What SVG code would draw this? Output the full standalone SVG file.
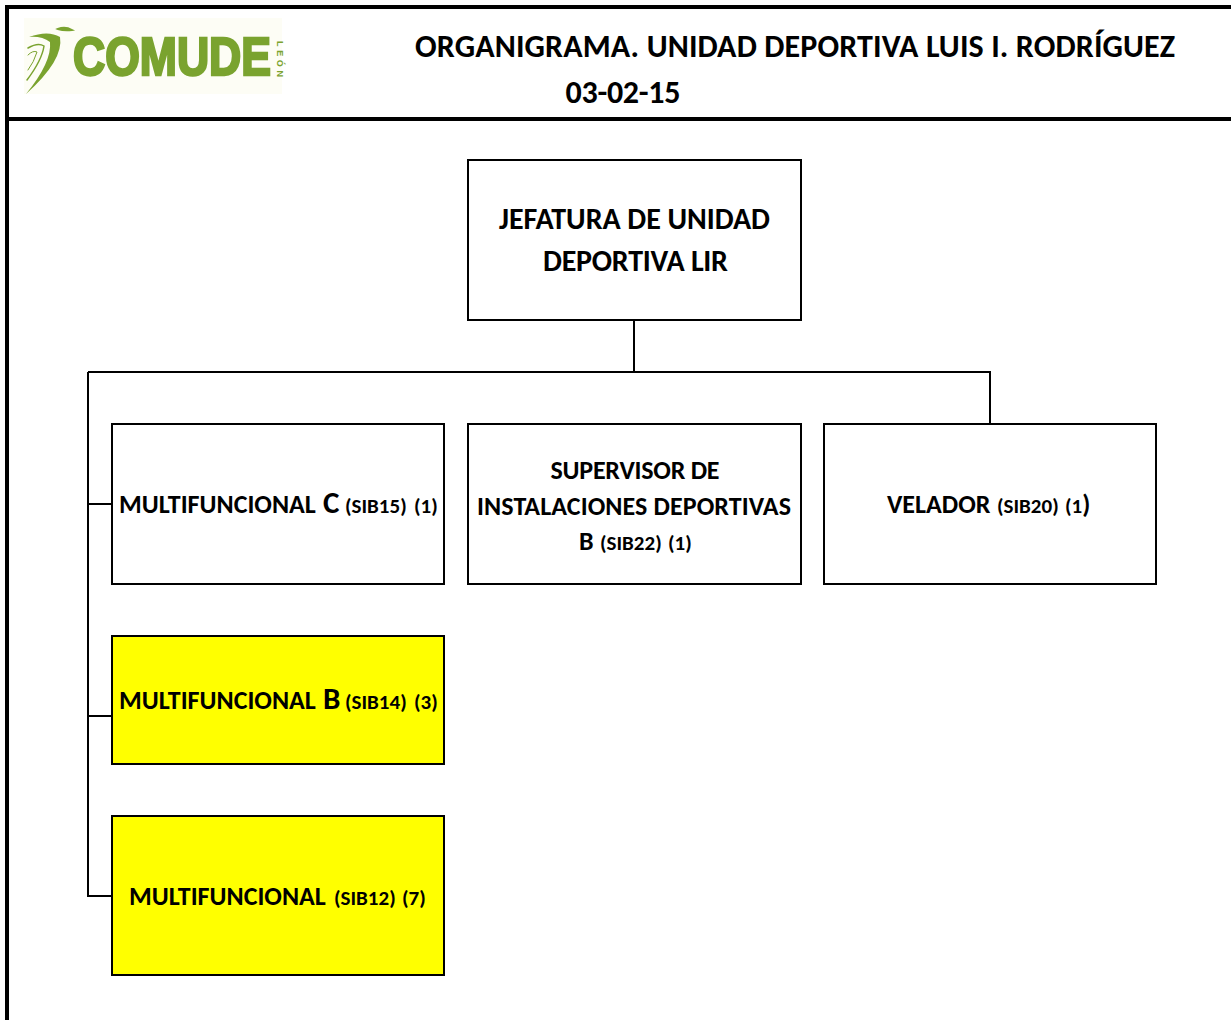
<svg xmlns="http://www.w3.org/2000/svg" width="1231" height="1020" viewBox="0 0 1231 1020">
<style>
text{font-family:Carlito,Lato,"Open Sans","Liberation Sans",sans-serif;font-weight:700;fill:#000;text-anchor:middle}
.b{fill:#fff;stroke:#000;stroke-width:2}
.y{fill:#ff0;stroke:#000;stroke-width:2}
.c{fill:none;stroke:#000;stroke-width:2}
.l{font-size:26px;text-anchor:start}
.m{font-size:26px}
.k{font-size:31px}
.s{font-size:21px}
.t{font-size:32px}
.j{font-size:30px}
.g{fill:none;stroke:#7aa32f;stroke-linecap:round}
</style>
<rect width="1231" height="1020" fill="#fff"/>
<path d="M7 1020V7H1231M7 119H1231" fill="none" stroke="#000" stroke-width="4"/>
<g id="logo">
<rect x="24" y="18" width="258" height="76" fill="#fdfdf5"/>
<path d="M58 29Q65 26 72 30Q64 31 58 29Z" fill="#7aa32f" stroke="#7aa32f" stroke-width="2"/>
<path d="M29 37Q48 30 60 37Q64 60 26 94Q52 62 50 42Q42 36 29 37Z" fill="#7aa32f"/>
<path class="g" stroke-width="1.5" d="M28 48Q38 42 44 46Q42 60 27 80"/>
<path class="g" stroke-width="1" d="M28 55Q33 50 37 52Q34 62 28 70"/>
<text x="172" y="75" textLength="198" lengthAdjust="spacingAndGlyphs" style="font-size:53px;fill:#7aa32f;stroke:#7aa32f;stroke-width:2.500px;font-family:'Liberation Sans',sans-serif">COMUDE</text>
<text transform="translate(277,59) rotate(90)" style="font-size:9px;fill:#7aa32f;font-family:'Liberation Sans',sans-serif" textLength="36" lengthAdjust="spacing">LEÓN</text>
</g>
<text x="795" y="57" class="t" textLength="760">ORGANIGRAMA. UNIDAD DEPORTIVA LUIS I. RODRÍGUEZ</text>
<text x="623" y="103" class="t" textLength="115">03-02-15</text>
<g id="connectors">
<path class="c" d="M634 320V372M88 372H990V423M88 372V896H112M88 504H112M88 716H112"/>
</g>
<g id="jefatura"><rect class="b" x="468" y="160" width="333" height="160"/>
<text x="634.500" y="229" class="j" textLength="271">JEFATURA DE UNIDAD</text>
<text x="635.500" y="271" class="j" textLength="185">DEPORTIVA LIR</text></g>
<g id="mfc"><rect class="b" x="112" y="424" width="332" height="160"/>
<text x="119" y="513" class="l"><tspan>MULTIFUNCIONAL</tspan><tspan x="323" class="k">C</tspan><tspan x="345" class="s">(SIB15)</tspan><tspan x="414" class="s">(1)</tspan></text></g>
<g id="supervisor"><rect class="b" x="468" y="424" width="333" height="160"/>
<text x="635" y="479" class="m" textLength="169">SUPERVISOR DE</text>
<text x="634" y="515" class="m" textLength="314">INSTALACIONES DEPORTIVAS</text>
<text x="579" y="550" class="l">B<tspan x="600" class="s">(SIB22)</tspan><tspan x="668" class="s">(1)</tspan></text></g>
<g id="velador"><rect class="b" x="824" y="424" width="332" height="160"/>
<text x="887" y="513" class="l">VELADOR<tspan x="997" class="s">(SIB20)</tspan><tspan x="1065" class="s">(1</tspan><tspan>)</tspan></text></g>
<g id="mfb"><rect class="y" x="112" y="636" width="332" height="128"/>
<text x="119" y="709" class="l"><tspan>MULTIFUNCIONAL</tspan><tspan x="323" class="k">B</tspan><tspan x="345" class="s">(SIB14)</tspan><tspan x="414" class="s">(3)</tspan></text></g>
<g id="mf"><rect class="y" x="112" y="816" width="332" height="159"/>
<text x="129" y="905" class="l"><tspan>MULTIFUNCIONAL</tspan><tspan x="334" class="s">(SIB12)</tspan><tspan x="402" class="s">(7)</tspan></text></g>
</svg>
